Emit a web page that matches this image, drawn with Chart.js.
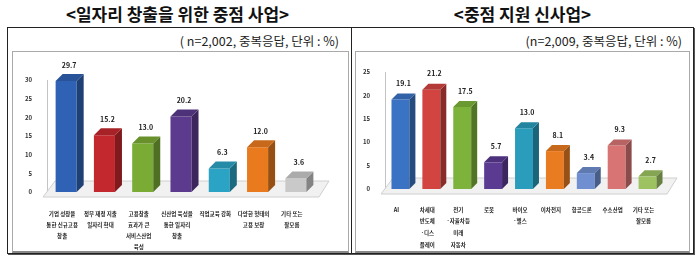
<!DOCTYPE html>
<html>
<head>
<meta charset="utf-8">
<script src="https://cdn.jsdelivr.net/npm/chart.js@4"></script>
<style>
  body { margin: 0; background: #fff; font-family: "Noto Sans CJK KR", sans-serif; }
  .title { position: absolute; top: 1px; font-size: 17px; font-weight: bold; color: #111; text-align: center; }
  .note { position: absolute; top: 31px; font-size: 12.5px; color: #222; text-align: right; }
  .outer { position: absolute; left: 7px; top: 27px; width: 685px; height: 225px; border: 1px solid #222; box-shadow: 1px 1px 0 #555; }
  .divider { position: absolute; left: 351px; top: 27px; width: 1px; height: 226px; background: #222; }
  .inner { position: absolute; top: 51px; height: 199px; border: 1px solid #aaa; border-bottom: 2px solid #888; }
</style>
</head>
<body>
<div class="title" style="left:20px;width:315px">&lt;일자리 창출을 위한 중점 사업&gt;</div>
<div class="title" style="left:370px;width:305px">&lt;중점 지원 신사업&gt;</div>
<div class="outer"></div>
<div class="divider"></div>
<div class="note" style="left:100px;width:239px">( n=2,002, 중복응답, 단위 : %)</div>
<div class="note" style="left:440px;width:242px">(n=2,009, 중복응답, 단위 : %)</div>
<div class="inner" style="left:12px;width:335px"><canvas id="jobChart" width="335" height="199"></canvas></div>
<div class="inner" style="left:355px;width:333px"><canvas id="newChart" width="333" height="199"></canvas></div>
<script>
// left chart: job creation priorities
const jobLabels = [
    ['기업 성장을', '통한 신규고용', '창출'],
    ['정부 재정 지출', '일자리 확대'],
    ['고용창출', '효과가 큰', '서비스산업', '육성'],
    ['신산업 육성을', '통한 일자리', '창출'],
    ['직업교육 강화'],
    ['다양한 형태의', '고용 보장'],
    ['기타 또는', '잘모름']
];
const jobValues = [29.7, 15.2, 13.0, 20.2, 6.3, 12.0, 3.6];
const jobTicks = [0, 5, 10, 15, 20, 25, 30];

// right chart: new industries to support
const newLabels = [
    ['AI'],
    ['차세대', '반도체', '·디스', '플레이'],
    ['전기', '·자율차등', '미래', '자동차'],
    ['로봇'],
    ['바이오', '·헬스'],
    ['이차전지'],
    ['항공드론'],
    ['수소산업'],
    ['기타 또는', '잘모름']
];
const newValues = [19.1, 21.2, 17.5, 5.7, 13.0, 8.1, 3.4, 9.3, 2.7];
const newTicks = [0, 5, 10, 15, 20, 25];

const jobColors = ['#2f62b4', '#c3282e', '#7aab34', '#5c3b8e', '#2ba3c4', '#ea7a1e', '#c9c9c9'];
const newColors = ['#3a73c4', '#d2443f', '#7db33a', '#5b3a92', '#2a9cbc', '#e97b20', '#6f8fd0', '#d87474', '#9dc262'];

function shade(hex, f) {
    const n = parseInt(hex.slice(1), 16);
    const c = [(n >> 16) & 255, (n >> 8) & 255, n & 255].map(v => {
        const r = f < 0 ? v * (1 + f) : v + (255 - v) * f;
        return Math.round(r);
    });
    return 'rgb(' + c.join(',') + ')';
}

// fake 3D: floor under bars, side + top faces, value labels
const bar3d = {
    id: 'bar3d',
    beforeDatasetsDraw(chart) {
        const { ctx, chartArea } = chart;
        const base = chart.scales.y.getPixelForValue(0);
        ctx.save();
        ctx.fillStyle = '#f1f1f1';
        ctx.strokeStyle = '#cfcfcf';
        ctx.beginPath();
        ctx.moveTo(chartArea.left - 4, base + 5);
        ctx.lineTo(chartArea.right + 4, base + 5);
        ctx.lineTo(chartArea.right + 14, base - 11);
        ctx.lineTo(chartArea.left + 8, base - 11);
        ctx.closePath();
        ctx.fill();
        ctx.stroke();
        ctx.restore();
    },
    afterDatasetsDraw(chart) {
        const { ctx } = chart;
        const d = chart.options.plugins.bar3d.depth;
        const colors = chart.data.datasets[0].backgroundColor;
        const meta = chart.getDatasetMeta(0);
        ctx.save();
        meta.data.forEach((bar, i) => {
            const w = bar.width / 2;
            const x = bar.x, y = bar.y, b = bar.base;
            ctx.fillStyle = shade(colors[i], -0.35);
            ctx.beginPath();
            ctx.moveTo(x + w, y);
            ctx.lineTo(x + w + d, y - d);
            ctx.lineTo(x + w + d, b - d);
            ctx.lineTo(x + w, b);
            ctx.closePath();
            ctx.fill();
            ctx.fillStyle = shade(colors[i], -0.15);
            ctx.beginPath();
            ctx.moveTo(x - w, y);
            ctx.lineTo(x - w + d, y - d);
            ctx.lineTo(x + w + d, y - d);
            ctx.lineTo(x + w, y);
            ctx.closePath();
            ctx.fill();
            ctx.fillStyle = '#222';
            ctx.font = 'bold 7px "Noto Sans CJK KR"';
            ctx.textAlign = 'center';
            ctx.textBaseline = 'middle';
            ctx.fillText(chart.data.datasets[0].data[i].toFixed(1), x + 3, y - 16);
        });
        ctx.restore();
    }
};

function makeChart(id, labels, values, colors, ticks, opts) {
    const ctx = document.getElementById(id).getContext('2d');
    return new Chart(ctx, {
        type: 'bar',
        data: {
            labels: labels,
            datasets: [{
                data: values,
                backgroundColor: colors,
                categoryPercentage: 1,
                barPercentage: opts.barPct
            }]
        },
        options: {
            responsive: false,
            animation: false,
            layout: { padding: { top: opts.top, right: opts.right, left: 0, bottom: 0 } },
            plugins: {
                legend: { display: false },
                tooltip: { enabled: false },
                bar3d: { depth: opts.depth }
            },
            scales: {
                x: {
                    grid: { display: false },
                    border: { display: false },
                    ticks: {
                        color: '#222',
                        font: { family: '"Noto Sans CJK KR"', size: 5.5, weight: 'bold', lineHeight: opts.lh },
                        maxRotation: 0,
                        autoSkip: false,
                        padding: opts.xpad,
                        labelOffset: -4
                    },
                    afterFit: s => { s.height = opts.xh; }
                },
                y: {
                    min: 0,
                    max: ticks[ticks.length - 1],
                    afterBuildTicks: s => { s.ticks = ticks.map(v => ({ value: v })); },
                    grid: { display: false },
                    border: { display: true, color: '#c4c4c4' },
                    ticks: {
                        color: '#333',
                        font: { family: '"Noto Sans CJK KR"', size: 6, weight: 'bold' },
                        padding: 7
                    },
                    afterFit: s => { s.width = opts.yw; }
                }
            }
        },
        plugins: [bar3d]
    });
}

makeChart('jobChart', jobLabels, jobValues, jobColors, jobTicks,
    { barPct: 0.55, top: 28, right: 33, xh: 59, yw: 34, depth: 7, lh: 1.95, xpad: 9 });
makeChart('newChart', newLabels, newValues, newColors, newTicks,
    { barPct: 0.58, top: 20, right: 26, xh: 62, yw: 29, depth: 6, lh: 2.1, xpad: 7 });
</script>
</body>
</html>
